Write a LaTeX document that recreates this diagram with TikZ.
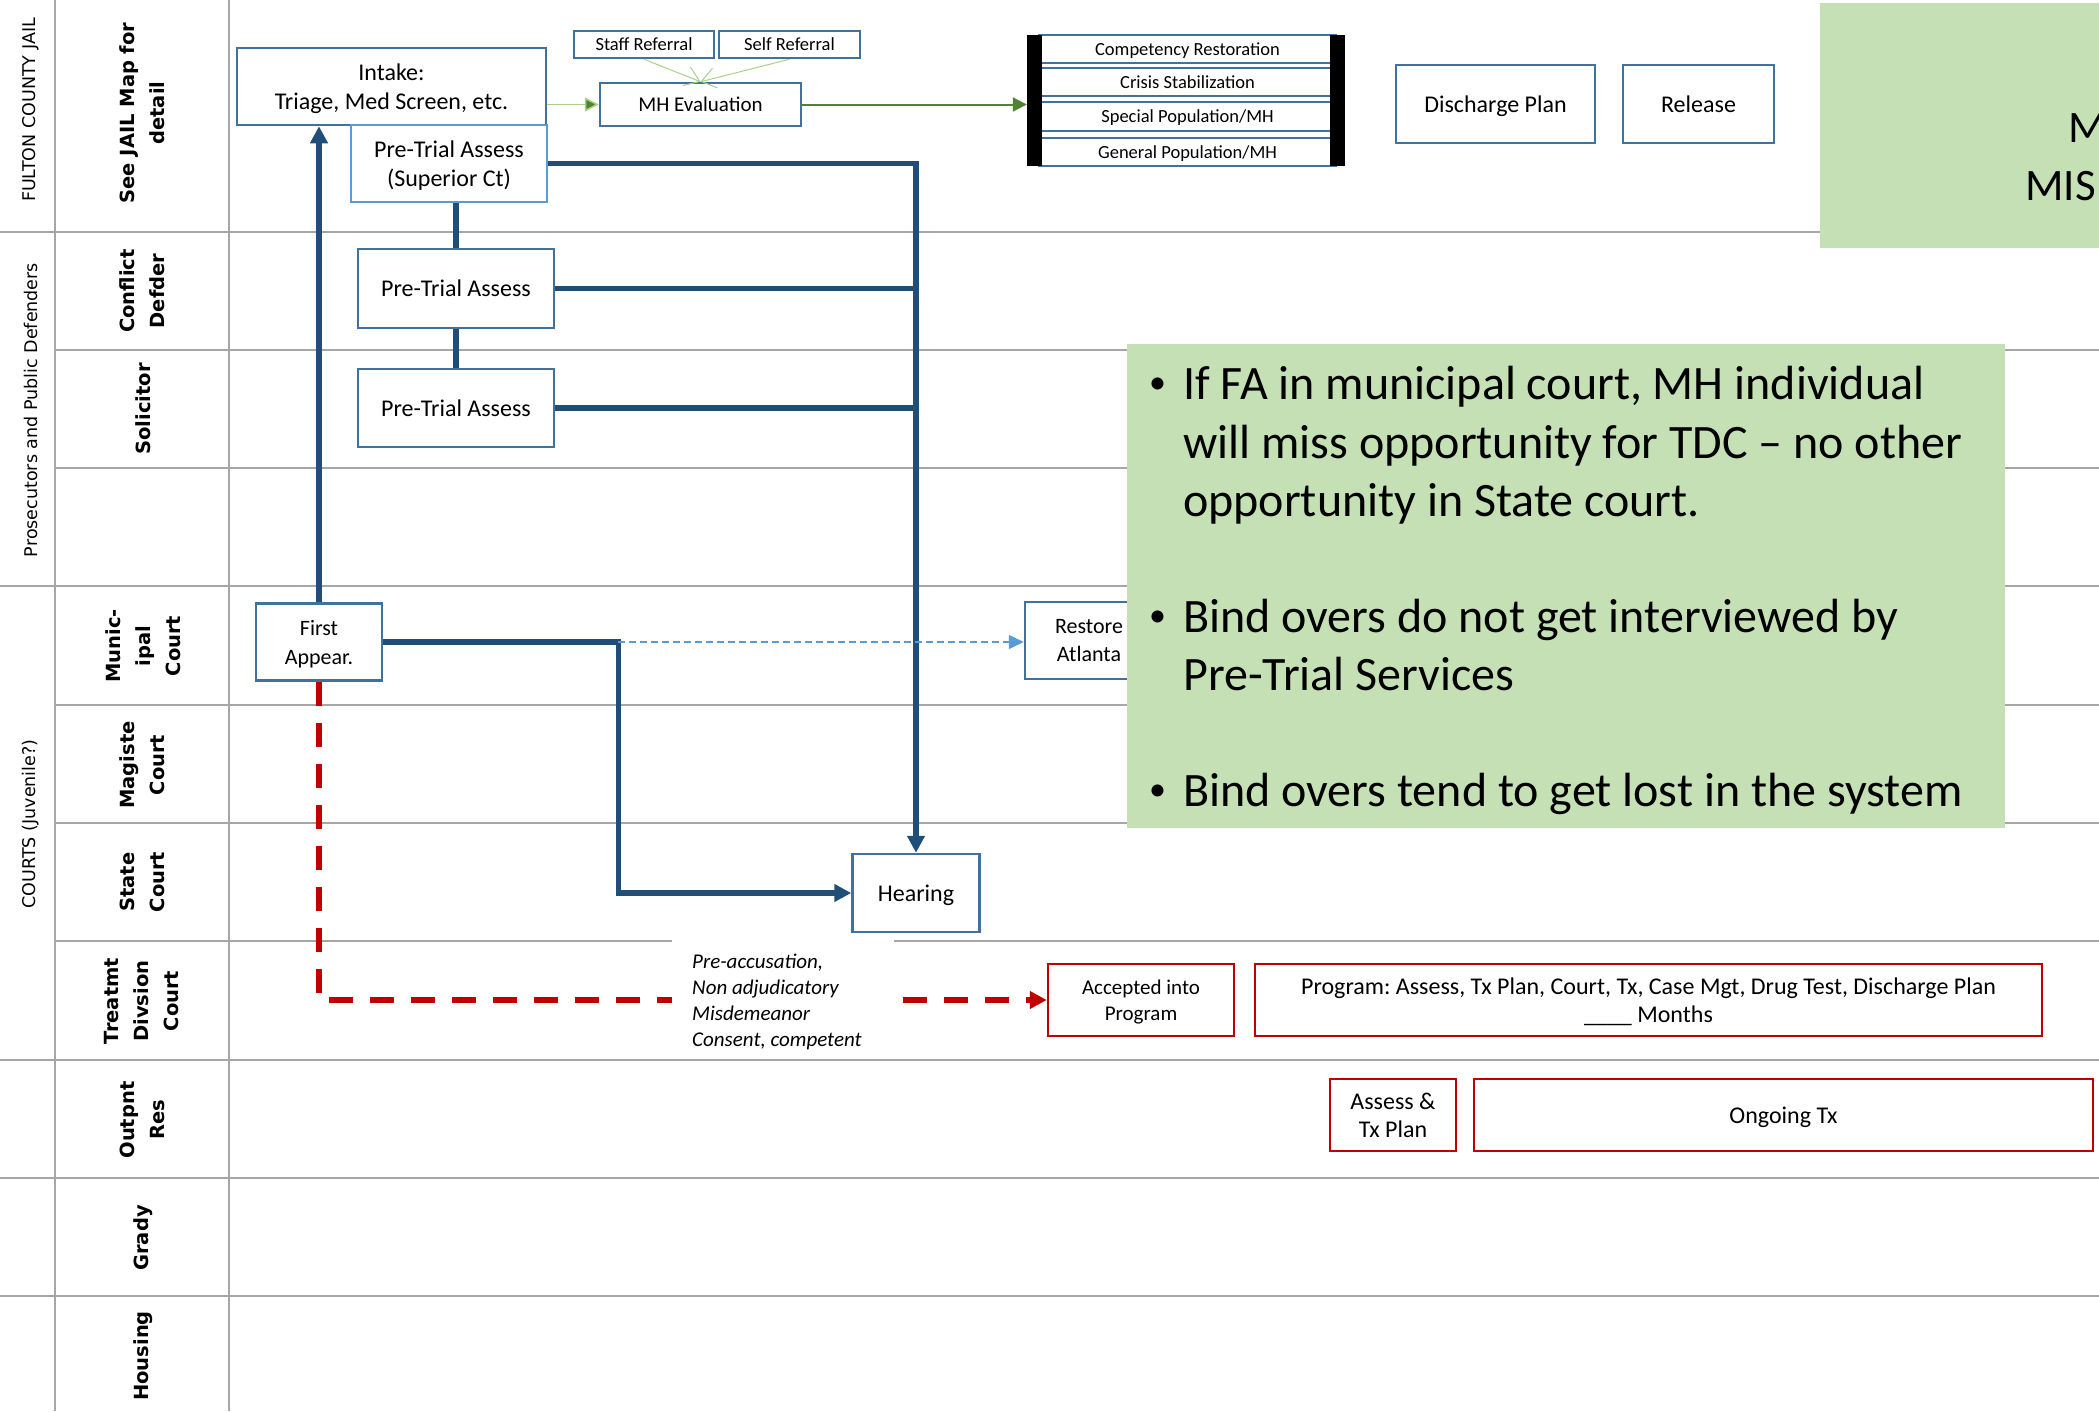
\documentclass[tikz,border=0pt]{standalone}
\usepackage{fontspec}
\setmainfont{Carlito}
\newfontfamily\dejavufont{DejaVu Sans}
\usetikzlibrary{arrows.meta}
\newcommand\setfs[2]{\fontsize{#1pt}{#2pt}\selectfont}
\definecolor{boxblue}{RGB}{65,113,156}
\definecolor{lightblue}{RGB}{91,155,213}
\definecolor{darkblue}{RGB}{31,78,121}
\definecolor{lanegray}{RGB}{166,166,166}
\definecolor{notegreen}{RGB}{197,224,180}
\definecolor{arrowgreen}{RGB}{84,130,53}
\definecolor{palegreen}{RGB}{169,209,142}
\definecolor{darkred}{RGB}{192,0,0}
\tikzset{
  lane/.style={draw=lanegray, line width=2.5pt},
  grouplabel/.style={rotate=90, inner sep=0pt, font=\dejavufont\setfs{17.5}{20}},
  lanelabel/.style={rotate=90, inner sep=0pt, align=center, font=\dejavufont\bfseries\setfs{19.5}{30}},
  box/.style={draw=boxblue, line width=2.5pt, fill=white, align=center, inner sep=0pt, text depth=0pt, font=\setfs{24}{29}},
  lightbox/.style={box, draw=lightblue},
  redbox/.style={box, draw=darkred, font=\setfs{24}{28}},
  smallbox/.style={box, font=\setfs{18.5}{22}},
  stackrow/.style={draw=boxblue, line width=2.5pt, fill=white, inner sep=0pt, text depth=0pt, minimum width=297pt, font=\setfs{18.5}{22}},
  flow/.style={draw=darkblue, line width=5.5pt, line join=miter},
  flowtip/.style={-{Triangle[length=17pt,width=17pt]}},
  bluedash/.style={draw=lightblue, line width=1.5pt, dash pattern=on 7pt off 4pt, -{Triangle[length=15pt,width=14pt]}},
  reddash/.style={draw=darkred, line width=6pt, dash pattern=on 24pt off 17pt, -{Triangle[length=17pt,width=17pt]}},
  greenline/.style={draw=palegreen, line width=1.5pt, -{Triangle[length=14pt,width=14pt,fill=arrowgreen]}},
  darkgreenline/.style={draw=arrowgreen, line width=2pt, -{Triangle[length=14pt,width=14pt]}},
  refline/.style={draw=palegreen, line width=1pt, -{Straight Barb[length=14pt,width=20pt]}},
  notetext/.style={anchor=base west, inner sep=0pt, font=\setfs{48}{57}},
  notebullet/.style={anchor=base west, inner sep=0pt, font=\setfs{34}{40}},
}
\begin{document}
\frenchspacing
\begin{tikzpicture}[x=1pt,y=-1pt]
\useasboundingbox (0,0) rectangle (2099,1411);
% swimlane grid
\draw[lane] (55,0) -- (55,1411);
\draw[lane] (229,0) -- (229,1411);
\foreach \yy/\xx in {232/0,350/55,468/55,586/0,705/55,823/55,941/55,1060/0,1178/0,1296/0}
  \draw[lane] (\xx,\yy) -- (2099,\yy);
% group labels
\node[grouplabel] (gjail) at (31,110) {FULTON COUNTY JAIL};
\node[grouplabel] (gpros) at (31,410) {Prosecutors and Public Defenders};
\node[grouplabel] (gcourt) at (31,824) {COURTS (Juvenile?)};
% lane labels
\node[lanelabel] (ljail) at (142,113) {See JAIL Map for\\detail};
\node[lanelabel] (lcon) at (142,291) {Conflict\\Defder};
\node[lanelabel] (lsol) at (143,409) {Solicitor};
\node[lanelabel] (lmun) at (143,646) {Munic-\\ipal\\Court};
\node[lanelabel] (lmag) at (142,765) {Magiste\\Court};
\node[lanelabel] (lsta) at (142,882) {State\\Court};
\node[lanelabel] (ltre) at (142,1001) {Treatmt\\Divsion\\Court};
\node[lanelabel] (lout) at (142,1120) {Outpnt\\Res};
\node[lanelabel] (lgra) at (143,1238) {Grady};
\node[lanelabel] (lhou) at (143,1356) {Housing};
% boxes
\node[box, minimum width=309pt, minimum height=77pt] (intake) at (391.5,86.5) {Intake:\\Triage, Med Screen, etc.};
\node[lightbox, minimum width=196pt, minimum height=77pt] (ptsup) at (449,163.5) {Pre-Trial Assess\\(Superior Ct)};
\node[box, minimum width=196pt, minimum height=79pt] (ptcon) at (456,288.5) {Pre-Trial Assess};
\node[box, minimum width=196pt, minimum height=78pt] (ptsol) at (456,408) {Pre-Trial Assess};
\node[smallbox, minimum width=140pt, minimum height=27pt] (staff) at (644,44.5) {Staff Referral};
\node[smallbox, minimum width=141pt, minimum height=27pt] (self) at (789.5,44.5) {Self Referral};
\node[box, font=\setfs{21}{26}, minimum width=201pt, minimum height=43pt] (mheval) at (700.5,104.5) {MH Evaluation};
\node[minimum width=318pt, minimum height=131pt, inner sep=0pt] (stack) at (1186,100.5) {};
\node[stackrow, minimum height=28pt] (row1) at (1187.5,49) {Competency Restoration};
\node[stackrow, minimum height=28pt] (row2) at (1187.5,82) {Crisis Stabilization};
\node[stackrow, minimum height=29pt] (row3) at (1187.5,116.5) {Special Population/MH};
\node[stackrow, minimum height=28pt] (row4) at (1187.5,152) {General Population/MH};
\fill[black] (1027,35) rectangle (1042,166);
\fill[black] (1330,35) rectangle (1345,166);
\node[box, minimum width=199pt, minimum height=78pt] (discharge) at (1495.5,104) {Discharge Plan};
\node[box, minimum width=151pt, minimum height=78pt] (release) at (1698.5,104) {Release};
\node[box, font=\setfs{22}{29}, minimum width=126pt, minimum height=77pt] (first) at (319,642) {First\\Appear.};
\node[box, font=\setfs{22}{28}, minimum width=128pt, minimum height=77pt] (restore) at (1089,640.5) {Restore\\Atlanta};
\node[box, minimum width=127pt, minimum height=78pt] (hearing) at (916,893) {Hearing};
\node[redbox, font=\setfs{21}{26}, minimum width=186pt, minimum height=72pt] (accepted) at (1141,1000) {Accepted into\\Program};
\node[redbox, minimum width=787pt, minimum height=72pt] (program) at (1648.5,1000) {Program: Assess, Tx Plan, Court, Tx, Case Mgt, Drug Test, Discharge Plan\\\_\_\_\_ Months};
\node[redbox, minimum width=126pt, minimum height=72pt] (assess) at (1393,1115) {Assess \&\\Tx Plan};
\node[redbox, minimum width=619pt, minimum height=72pt] (ongoing) at (1783.5,1115) {Ongoing Tx};
% connectors
\draw[flow, flowtip] (first.north) -- (first.north |- intake.south);
\draw[flow] (ptcon.north) -- (ptcon.north |- ptsup.south);
\draw[flow] (ptsol.north) -- (ptcon.south);
\draw[flow, flowtip] (ptsup.east) -| (hearing.north);
\draw[flow] (ptcon.east) -- (ptcon.east -| hearing.north);
\draw[flow] (ptsol.east) -- (ptsol.east -| hearing.north);
\coordinate (facorner) at ([xshift=235pt]first.east);
\draw[flow, flowtip] (first.east) -- (facorner) |- (hearing.west);
\draw[bluedash] (facorner) -- (facorner -| restore.west);
\draw[reddash] (first.south) |- (accepted.west);
\draw[greenline] (intake.east |- mheval.west) -- (mheval.west);
\draw[darkgreenline] (mheval.east) -- (mheval.east -| stack.west);
\draw[refline] (staff.south) -- (mheval.north);
\draw[refline] (self.south) -- (mheval.north);
% conditions text on a white patch
\fill[white] (672,937) rectangle (894,1058);
\node[align=left, anchor=west, inner sep=0pt, font=\itshape\setfs{21}{26}] (cond) at (692,1002)
  {Pre-accusation,\\Non adjudicatory\\Misdemeanor\\Consent, competent};
% notes
\fill[notegreen] (1820,3) rectangle (2110,248);
\node[anchor=base west, inner sep=0pt, font=\setfs{45}{50}] (mtop) at (2068,142) {M};
\node[anchor=base west, inner sep=0pt, font=\setfs{45}{50}] (mbot) at (2025,200) {MIS};
\fill[notegreen] (1127,344) rectangle (2005,828);
\node[notebullet] (b1) at (1149,393) {\textbullet};
\node[notetext] (t1a) at (1183,399) {If FA in municipal court, MH individual};
\node[notetext] (t1b) at (1183,458) {will miss opportunity for TDC – no other};
\node[notetext] (t1c) at (1183,516) {opportunity in State court.};
\node[notebullet] (b2) at (1149,626) {\textbullet};
\node[notetext] (t2a) at (1183,632) {Bind overs do not get interviewed by};
\node[notetext] (t2b) at (1183,690) {Pre-Trial Services};
\node[notebullet] (b3) at (1149,800) {\textbullet};
\node[notetext] (t3a) at (1183,806) {Bind overs tend to get lost in the system};
\end{tikzpicture}
\end{document}
